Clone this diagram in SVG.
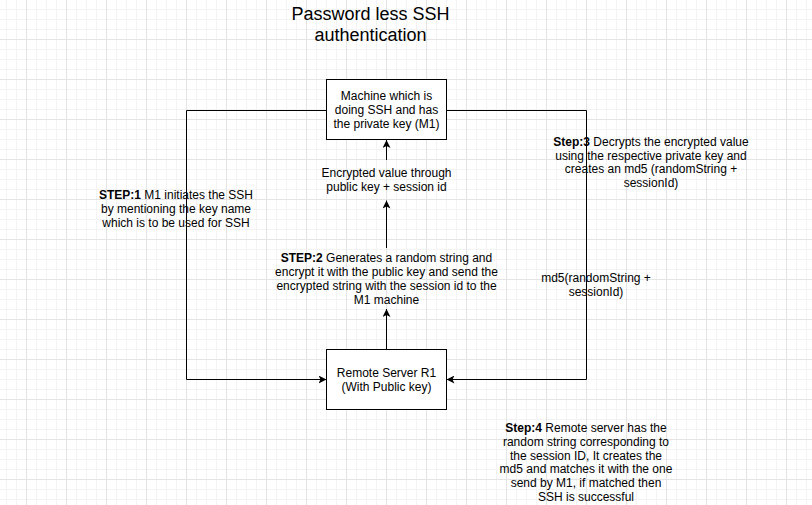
<svg xmlns="http://www.w3.org/2000/svg" width="812" height="505" viewBox="0 0 812 505">
<style>
  text { font-family: "Liberation Sans", Arial, sans-serif; font-size: 12px; fill: #000; text-anchor: middle; }
  .title { font-size: 18px; }
  .box { fill: #fff; stroke: #000; stroke-width: 1; }
  .edge { fill: none; stroke: #000; stroke-width: 1; }
  b, .b { font-weight: bold; }
</style>
<defs>
  <pattern id="grid" x="6" y="9" width="40" height="40" patternUnits="userSpaceOnUse">
    <path d="M0.5,0V40M10.5,0V40M30.5,0V40M0,0.5H40M0,10.5H40M0,20.5H40" stroke="#f3f3f3" stroke-width="1" fill="none"/>
    <path d="M20.5,0V40M0,30.5H40" stroke="#e4e4e4" stroke-width="1" fill="none"/>
  </pattern>
  <marker id="arrow" viewBox="0 0 8 8" refX="8" refY="4" markerWidth="8" markerHeight="8" markerUnits="userSpaceOnUse" orient="auto">
    <path d="M0,0 L8,4 L0,8 L2,4 z" fill="#000"/>
  </marker>
</defs>
<rect width="812" height="505" fill="#fff"/>
<rect width="812" height="505" fill="url(#grid)"/>

<g id="title">
  <text class="title" x="370.5" y="20">Password less SSH</text>
  <text class="title" x="370.5" y="41">authentication</text>
</g>

<g id="connectors">
  <path class="edge" d="M326.5,110.5 H186.5 V379.5 H326.5" marker-end="url(#arrow)"/>
  <path class="edge" d="M446.5,110.5 H586.5 V379.5 H446.5" marker-end="url(#arrow)"/>
  <path class="edge" d="M386.5,349.5 V309" marker-end="url(#arrow)"/>
  <path class="edge" d="M386.5,248 V200.5" marker-end="url(#arrow)"/>
  <path class="edge" d="M386.5,160 V140" marker-end="url(#arrow)"/>
</g>

<g id="node-m1">
  <rect class="box" x="326.5" y="79.5" width="120" height="60"/>
  <text x="386.5" y="100">Machine which is</text>
  <text x="386.5" y="114">doing SSH and has</text>
  <text x="386.5" y="128">the private key (M1)</text>
</g>

<g id="node-r1">
  <rect class="box" x="326.5" y="349.5" width="120" height="60"/>
  <text x="386.5" y="377">Remote Server R1</text>
  <text x="386.5" y="391">(With Public key)</text>
</g>

<g id="label-encrypted">
  <text x="386.5" y="177">Encrypted value through</text>
  <text x="386.5" y="191">public key + session id</text>
</g>

<g id="label-step1">
  <text x="176" y="199"><tspan class="b">STEP:1</tspan> M1 initiates the SSH</text>
  <text x="176" y="213">by mentioning the key name</text>
  <text x="176" y="227">which is to be used for SSH</text>
</g>

<g id="label-step2">
  <text x="386.5" y="262"><tspan class="b">STEP:2</tspan> Generates a random string and</text>
  <text x="386.5" y="276">encrypt it with the public key and send the</text>
  <text x="386.5" y="290">encrypted string with the session id to the</text>
  <text x="386.5" y="304">M1 machine</text>
</g>

<g id="label-step3">
  <text x="651" y="146"><tspan class="b">Step:3</tspan> Decrypts the encrypted value</text>
  <text x="651" y="160">using the respective private key and</text>
  <text x="651" y="173">creates an md5 (randomString +</text>
  <text x="651" y="187">sessionId)</text>
</g>

<g id="label-md5">
  <text x="596" y="282">md5(randomString +</text>
  <text x="596" y="296">sessionId)</text>
</g>

<g id="label-step4">
  <text x="586" y="432"><tspan class="b">Step:4</tspan> Remote server has the</text>
  <text x="586" y="446">random string corresponding to</text>
  <text x="586" y="460">the session ID, It creates the</text>
  <text x="586" y="473">md5 and matches it with the one</text>
  <text x="586" y="487">send by M1, if matched then</text>
  <text x="586" y="501">SSH is successful</text>
</g>
</svg>
